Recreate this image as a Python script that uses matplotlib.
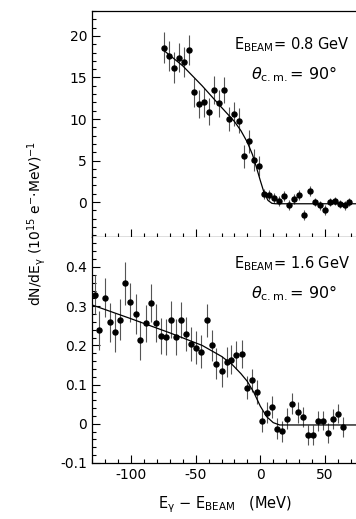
import numpy as np
import matplotlib

matplotlib.use("Agg")
import matplotlib.pyplot as plt
from matplotlib.ticker import MultipleLocator, FuncFormatter

# --- 0.8 GeV panel (units of 10^15 e^- MeV)^-1) -------------------------------
x08 = [-74.4, -70.5, -66.7, -62.8, -59.0, -54.9, -51.3, -47.7, -43.6, -39.7,
       -35.6, -31.8, -27.9, -24.1, -20.2, -16.4, -12.6, -8.5, -4.6, -0.8,
       3.1, 6.9, 10.8, 14.6, 18.5, 22.6, 26.4, 30.3, 34.1, 38.2,
       42.1, 45.9, 49.8, 53.6, 57.5, 61.3, 65.2, 69.0]
y08 = [18.6, 17.6, 16.2, 17.4, 16.9, 18.3, 13.2, 11.8, 12.0, 10.9,
       13.5, 11.9, 13.5, 10.0, 10.6, 9.8, 5.5, 7.3, 5.1, 4.3,
       1.0, 0.8, 0.5, 0.1, 0.7, -0.3, 0.4, 0.8, -1.6, 1.3,
       0.0, -0.4, -1.0, 0.0, 0.1, -0.2, -0.4, 0.0]
e08 = [1.9, 1.8, 1.9, 1.8, 1.8, 1.8, 1.7, 1.7, 1.7, 1.6,
       1.7, 1.6, 1.6, 1.5, 1.5, 1.5, 1.4, 1.4, 1.3, 1.2,
       0.6, 0.6, 0.6, 0.6, 0.6, 0.6, 0.6, 0.6, 0.6, 0.6,
       0.5, 0.5, 0.6, 0.5, 0.5, 0.5, 0.5, 0.5]
fit08_x = [-75, -60, -45, -30, -20, -15, -10, -6, -3, 0, 3, 6, 9, 12, 75]
fit08_y = [18.3, 16.4, 14.0, 11.4, 9.7, 8.6, 7.2, 5.7, 4.2, 2.6, 1.1, 0.2, -0.15, -0.2, -0.2]

# --- 1.6 GeV panel ---------------------------------------------------------------
x16 = [-128.2, -124.4, -120.3, -116.4, -112.3, -108.5, -104.4, -100.5, -96.4, -92.8,
       -88.7, -84.6, -80.8, -76.9, -72.8, -69.0, -64.9, -61.0, -57.2, -53.3,
       -49.5, -45.9, -41.5, -37.7, -34.1, -30.0, -25.9, -22.3, -18.5, -14.4,
       -10.5, -6.7, -2.6, 1.3, 5.1, 9.0, 13.1, 16.9, 21.0, 24.8,
       29.0, 32.8, 36.7, 40.8, 44.6, 48.5, 52.6, 56.4, 60.2, 64.1]
y16 = [0.329, 0.239, 0.322, 0.259, 0.233, 0.266, 0.358, 0.310, 0.280, 0.213,
       0.256, 0.308, 0.257, 0.223, 0.222, 0.266, 0.222, 0.265, 0.229, 0.203,
       0.194, 0.184, 0.264, 0.200, 0.153, 0.134, 0.158, 0.164, 0.175, 0.178,
       0.092, 0.111, 0.081, 0.008, 0.028, 0.043, -0.013, -0.019, 0.013, 0.051,
       0.029, 0.018, -0.028, -0.028, 0.007, 0.008, -0.023, 0.013, 0.026, -0.008]
e16 = [0.050, 0.050, 0.050, 0.050, 0.050, 0.052, 0.056, 0.050, 0.050, 0.050,
       0.048, 0.048, 0.048, 0.046, 0.046, 0.046, 0.046, 0.045, 0.044, 0.044,
       0.042, 0.042, 0.042, 0.040, 0.040, 0.040, 0.038, 0.036, 0.036, 0.035,
       0.030, 0.030, 0.030, 0.028, 0.027, 0.027, 0.027, 0.027, 0.027, 0.027,
       0.026, 0.026, 0.025, 0.025, 0.025, 0.025, 0.025, 0.025, 0.025, 0.025]
fit16_x = [-130, -100, -70, -45, -30, -22, -15, -10, -5, 0, 5, 10, 15, 75]
fit16_y = [0.303, 0.268, 0.232, 0.200, 0.172, 0.152, 0.128, 0.108, 0.080, 0.045, 0.018, 0.003, -0.003, -0.003]

plt.rcParams.update({
    "font.family": "DejaVu Sans",
    "font.size": 10,
    "mathtext.default": "regular",
    "axes.linewidth": 0.9,
    "axes.unicode_minus": False,
})

fig = plt.figure(figsize=(3.56, 5.19), dpi=100)
left, width = 92 / 356, 266 / 356
ax1 = fig.add_axes([left, 1 - 237 / 519, width, 226 / 519])
ax2 = fig.add_axes([left, 1 - 463 / 519, width, 226 / 519], sharex=ax1)

for ax, x, y, e, fx, fy in ((ax1, x08, y08, e08, fit08_x, fit08_y),
                           (ax2, x16, y16, e16, fit16_x, fit16_y)):
    ax.errorbar(x, y, yerr=e, fmt="o", color="black", ecolor="#555555",
                ms=3.6, elinewidth=0.8, capsize=0)
    ax.plot(fx, fy, color="black", lw=0.9)
    ax.spines["right"].set_visible(False)
    ax.tick_params(which="both", direction="in", top=False, right=False,
                   labelsize=10, width=0.8)
    ax.tick_params(which="major", length=6)
    ax.tick_params(which="minor", length=3)
    ax.xaxis.set_major_locator(MultipleLocator(50))
    ax.xaxis.set_minor_locator(MultipleLocator(10))

ax1.set_xlim(-130.2, 75.6)
ax1.set_ylim(-4.2, 23.0)
ax1.yaxis.set_major_locator(MultipleLocator(5))
ax1.yaxis.set_minor_locator(MultipleLocator(1))
ax1.tick_params(axis="x", labelbottom=False)

ax2.set_ylim(-0.1, 0.4765)
ax2.spines["top"].set_visible(False)
ax2.yaxis.set_major_locator(MultipleLocator(0.1))
ax2.yaxis.set_minor_locator(MultipleLocator(0.02))
ax2.yaxis.set_major_formatter(FuncFormatter(lambda v, p: "0" if abs(v) < 1e-9 else f"{v:.1f}"))

theta = r"$\mathit{\theta}_{c.m.}$= 90°"
ax1.text(0.97, 0.85, r"E$_{BEAM}$= 0.8 GeV", transform=ax1.transAxes,
         ha="right", va="center", fontsize=10.5)
ax1.text(0.92, 0.72, theta, transform=ax1.transAxes,
         ha="right", va="center", fontsize=11.5)
ax2.text(0.97, 0.88, r"E$_{BEAM}$= 1.6 GeV", transform=ax2.transAxes,
         ha="right", va="center", fontsize=10.5)
ax2.text(0.92, 0.75, theta, transform=ax2.transAxes,
         ha="right", va="center", fontsize=11.5)

fig.text(37 / 356, 1 - 223 / 519,
         r"dN/dE$_{\gamma}$ (10$^{15}$ e$^{-}$$\cdot$MeV)$^{-1}$",
         rotation=90, ha="center", va="center", fontsize=10)
fig.text(225 / 356, 1 - 505 / 519, r"E$_{\gamma}$ $-$ E$_{BEAM}$   (MeV)",
         ha="center", va="center", fontsize=10.5)

fig.savefig("out.png", dpi=100, facecolor="white")
